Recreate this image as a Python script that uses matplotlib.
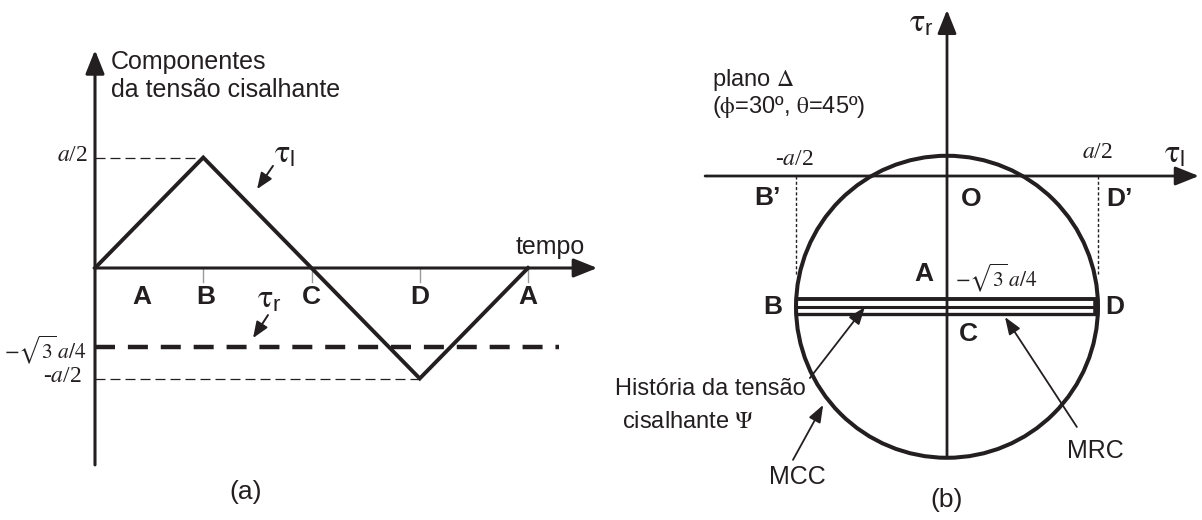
import numpy as np
import matplotlib
matplotlib.use("Agg")
import matplotlib.pyplot as plt
from matplotlib.patches import Circle

plt.rcParams['font.family'] = ['Liberation Sans', 'DejaVu Sans']
plt.rcParams['mathtext.fontset'] = 'stix'

K = '#231f20'

# ---- (a) shear stress components over time (stress in units of a) ----
time_pos = [0, 1, 2, 3, 4]
time_labels = ['A', 'B', 'C', 'D', 'A']
tau_l_values = [0.0, 0.5, 0.0, -0.5, 0.0]
tau_r_level = -0.357          # constant radial component (drawn level)
tau_r_end = 4.29              # end time of the tau_r dashes
level_labels = [r'$\mathit{a}$/2', r'$-\sqrt{3}\,\mathit{a}/4$', r'-$\mathit{a}$/2']

# ---- (b) Delta plane (phi=30, theta=45), a = 1 ----
a = 1.0
half_a = a / 2
psi_center = -np.sqrt(3) / 4 * a    # tau_r of the loading path
band_offsets = [0.025, 0.0, -0.025]  # drawing offsets of the back-and-forth path
point_labels_b = ['A', 'B', 'C', 'D']

TAU_L = r'$\mathrm{\tau}_\mathregular{l}$'
TAU_R = r'$\mathrm{\tau}_\mathregular{r}$'

fig = plt.figure(figsize=(12.02, 5.2), dpi=100)

# ------------------------------ panel (a) ------------------------------
ax = fig.add_axes([0, 0, 600 / 1202, 1])
ax.set_xlim(-95 / 108.25, 505 / 108.25)
ax.set_ylim(-252 / 221, 268 / 221)
ax.axis('off')

ahead = '-|>,head_length=0.8,head_width=0.32'
ax.annotate('', xy=(0, 0.986), xytext=(0, -0.891),
            arrowprops=dict(arrowstyle=ahead, mutation_scale=18, lw=2.2, color=K,
                            shrinkA=0, shrinkB=0))
ax.annotate('', xy=(4.64, 0), xytext=(0, 0),
            arrowprops=dict(arrowstyle=ahead, mutation_scale=18, lw=2.2, color=K,
                            shrinkA=0, shrinkB=0))

# small gray ticks at the event times
for t in time_pos[1:]:
    ax.plot([t, t], [0, -0.063], color='#9a9a9a', lw=1.0)

# guide lines for +a/2 and -a/2
ax.plot([0, time_pos[1]], [tau_l_values[1]] * 2, color=K, lw=0.9, dashes=(8, 4))
ax.plot([0, time_pos[3]], [tau_l_values[3]] * 2, color=K, lw=0.9, dashes=(8, 4))

# tau_l: triangle history
ax.plot(time_pos, tau_l_values, color=K, lw=2.8, solid_joinstyle='miter')
# tau_r: constant
ax.plot([0, tau_r_end], [tau_r_level] * 2, color=K, lw=3.2, dashes=(4.5, 2.9))

# labels
ax.text(0.148, 0.932, 'Componentes', fontsize=18, color=K, ha='left', va='center')
ax.text(0.148, 0.805, 'da tensão cisalhante', fontsize=18, color=K, ha='left', va='center')
ax.text(4.527, 0.095, 'tempo', fontsize=18, color=K, ha='right', va='center')

letter_x = [0.43, 1.02, 2.0, 3.0, 4.0]
for xl, lab in zip(letter_x, time_labels):
    ax.text(xl, -0.131, lab, fontsize=19, fontweight='bold', color=K,
            ha='center', va='center')

ax.text(-0.065, 0.507, level_labels[0], fontsize=17, color=K, ha='right', va='center',
        family='Liberation Serif')
ax.text(-0.083, -0.371, level_labels[1], fontsize=15.5, color=K, ha='right', va='center')
ax.text(-0.12, -0.493, level_labels[2], fontsize=17, color=K, ha='right', va='center',
        family='Liberation Serif')

ax.text(1.755, 0.511, TAU_L, fontsize=23, color=K, ha='center', va='center')
ax.text(1.607, -0.145, TAU_R, fontsize=23, color=K, ha='center', va='center')
small = '-|>,head_length=0.7,head_width=0.28'
ax.annotate('', xy=(1.497, 0.357), xytext=(1.644, 0.462),
            arrowprops=dict(arrowstyle=small, mutation_scale=14, lw=1.4, color=K,
                            shrinkA=0, shrinkB=0))
ax.annotate('', xy=(1.46, -0.317), xytext=(1.598, -0.213),
            arrowprops=dict(arrowstyle=small, mutation_scale=14, lw=1.4, color=K,
                            shrinkA=0, shrinkB=0))

ax.text(1.395, -1.014, '(a)', fontsize=19, color=K, ha='center', va='center')

# ------------------------------ panel (b) ------------------------------
bx = fig.add_axes([600 / 1202, 0, 602 / 1202, 1])
bx.set_xlim(-347 / 302, 255 / 302)
bx.set_ylim(-344 / 302, 176 / 302)
bx.axis('off')

bx.annotate('', xy=(0.834, 0), xytext=(-0.801, 0),
            arrowprops=dict(arrowstyle=ahead, mutation_scale=18, lw=2.0, color=K,
                            shrinkA=0, shrinkB=0))
bx.annotate('', xy=(0, 0.55), xytext=(0, psi_center - half_a),
            arrowprops=dict(arrowstyle=ahead, mutation_scale=18, lw=2.0, color=K,
                            shrinkA=0, shrinkB=0))

# dotted projections of B and D onto the tau_l axis
for xv in (-half_a, half_a):
    bx.plot([xv, xv], [0, -0.33], color=K, lw=1.0, dashes=(2.2, 1.6))

# minimum circumscribed circle
bx.add_patch(Circle((0, psi_center), half_a, fill=False, lw=2.9, color=K))

# loading path: back and forth between B and D at constant tau_r
band_y = [psi_center + o for o in band_offsets]
bx.plot([-half_a, half_a], [band_y[0]] * 2, color=K, lw=2.8, solid_capstyle='butt')
bx.plot([-half_a, half_a], [band_y[1]] * 2, color=K, lw=2.2, solid_capstyle='butt')
bx.plot([-half_a, half_a], [band_y[2]] * 2, color=K, lw=2.4, solid_capstyle='butt')
bx.plot([half_a - 0.005, half_a - 0.005], [band_y[0] + 0.004, band_y[2] - 0.004],
        color=K, lw=4.0, solid_capstyle='butt')

# axis labels and values
bx.text(-0.086, 0.503, TAU_R, fontsize=23, color=K, ha='center', va='center')
bx.text(0.755, 0.07, TAU_L, fontsize=23, color=K, ha='center', va='center')
bx.text(-0.507, 0.053, r'-$\mathit{a}$/2', fontsize=17, color=K, ha='center',
        va='center', family='Liberation Serif')
bx.text(0.497, 0.079, r'$\mathit{a}$/2', fontsize=17, color=K, ha='center',
        va='center', family='Liberation Serif')
bx.text(-0.778, 0.318, r'plano $\mathrm{\Delta}$', fontsize=17, color=K,
        ha='left', va='center')
bx.text(-0.778, 0.228, r'($\mathrm{\phi}$=30º, $\mathrm{\theta}$=45º)', fontsize=17,
        color=K, ha='left', va='center')

bold = dict(fontsize=19, fontweight='bold', color=K, ha='center', va='center')
bx.text(-0.593, -0.073, 'B’', **bold)
bx.text(0.079, -0.076, 'O', **bold)
bx.text(0.57, -0.076, 'D’', **bold)
bx.text(-0.076, -0.325, point_labels_b[0], **bold)
bx.text(-0.576, -0.434, point_labels_b[1], **bold)
bx.text(0.07, -0.523, point_labels_b[2], **bold)
bx.text(0.556, -0.434, point_labels_b[3], **bold)
bx.text(0.026, -0.338, level_labels[1], fontsize=15.5, color=K,
        ha='left', va='center')

bx.text(-1.099, -0.705, 'História da tensão', fontsize=17, color=K,
        ha='left', va='center')
bx.text(-1.076, -0.815, r'cisalhante $\mathrm{\Psi}$', fontsize=17, color=K,
        ha='left', va='center')
bx.text(-0.497, -0.997, 'MCC', fontsize=18, color=K, ha='center', va='center')
bx.text(0.49, -0.911, 'MRC', fontsize=18, color=K, ha='center', va='center')
bx.text(0.0, -1.073, '(b)', fontsize=19, color=K, ha='center', va='center')

thin = '-|>,head_length=0.75,head_width=0.28'
for start, end in [((-0.454, -0.669), (-0.272, -0.434)),
                   ((-0.51, -0.94), (-0.41, -0.758)),
                   ((0.43, -0.831), (0.192, -0.467))]:
    bx.annotate('', xy=end, xytext=start,
                arrowprops=dict(arrowstyle=thin, mutation_scale=14, lw=1.3, color=K,
                                shrinkA=0, shrinkB=0))

fig.savefig('out.png', dpi=100, facecolor='white')
